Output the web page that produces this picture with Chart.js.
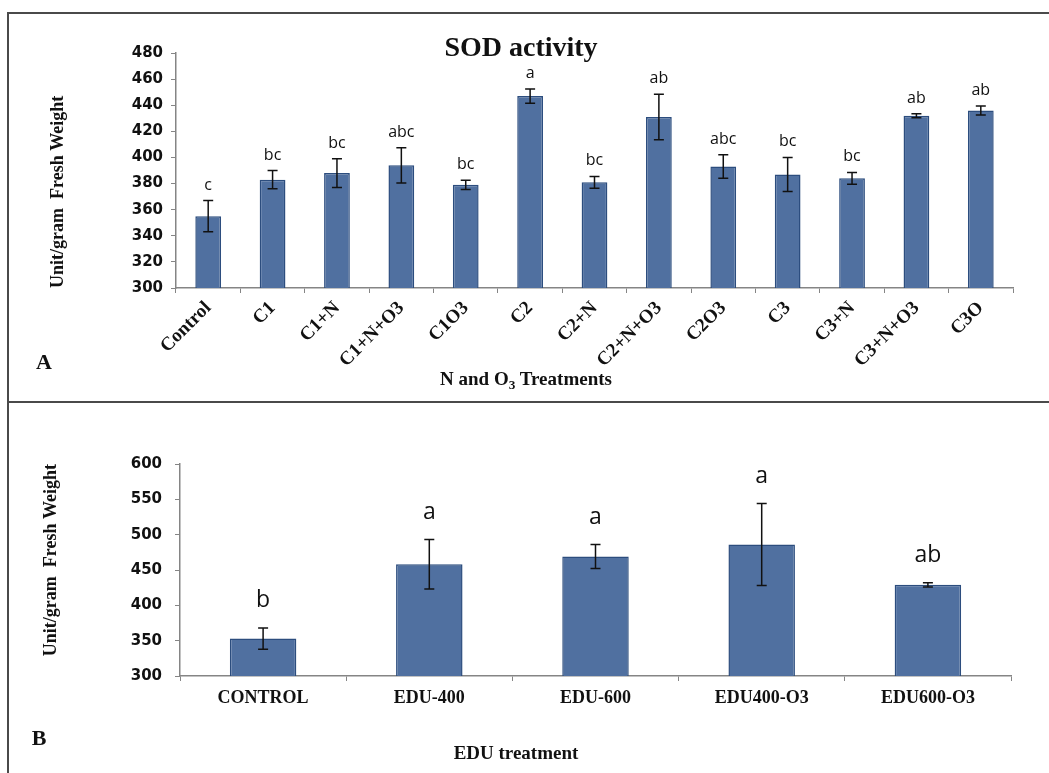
<!DOCTYPE html>
<html>
<head>
<meta charset="utf-8">
<script src="https://cdn.jsdelivr.net/npm/chart.js@4.4.0/dist/chart.umd.min.js"></script>
<style>
  body { margin: 0; background: #fff; width: 1049px; height: 773px; overflow: hidden; position: relative; }
  canvas { position: absolute; left: 0; }
  .line { position: absolute; background: #4a4a4a; }
  .lbl { position: absolute; transform: translate(-50%, -50%); font-family: 'Liberation Serif', serif;
         font-weight: bold; color: #111; white-space: nowrap; line-height: 1; }
  .lbl sub { font-size: 0.7em; vertical-align: -0.3em; }
</style>
</head>
<body>
<div class="line" style="left:7px;top:12px;width:1042px;height:2px"></div>
<div class="line" style="left:7px;top:12px;width:2px;height:761px"></div>
<div class="line" style="left:7px;top:401px;width:1042px;height:2px"></div>

<canvas id="chartA" width="1049" height="400" style="top:0"></canvas>
<canvas id="chartB" width="1049" height="371" style="top:402px"></canvas>

<div class="lbl" style="left:521px;top:47px;font-size:28px">SOD activity</div>
<div class="lbl" style="left:526px;top:380px;font-size:19px">N and O<sub>3</sub> Treatments</div>
<div class="lbl" style="left:44px;top:362px;font-size:22px">A</div>
<div class="lbl" style="left:39px;top:738px;font-size:22px">B</div>
<div class="lbl" style="left:516px;top:752px;font-size:19px">EDU treatment</div>

<script>
// Panel A: SOD activity, N and O3 treatments
const catsA = ['Control', 'C1', 'C1+N', 'C1+N+O3', 'C1O3', 'C2', 'C2+N', 'C2+N+O3', 'C2O3', 'C3', 'C3+N', 'C3+N+O3', 'C3O'];
const valsA = [355, 383, 388, 394, 379, 447, 381, 431, 393, 387, 384, 432, 436];
const errA = [12, 7, 11, 13.5, 3.5, 5.5, 4.5, 17.5, 9, 13, 4.5, 1.5, 3.5];
const lettersA = ['c', 'bc', 'bc', 'abc', 'bc', 'a', 'bc', 'ab', 'abc', 'bc', 'bc', 'ab', 'ab'];

// Panel B: EDU treatment
const catsB = ['CONTROL', 'EDU-400', 'EDU-600', 'EDU400-O3', 'EDU600-O3'];
const valsB = [353, 458, 469, 486, 429];
const errB = [15, 35, 17, 58, 3];
const lettersB = ['b', 'a', 'a', 'a', 'ab'];

const axisColor = '#858585';
const barFill = '#5070a0';
const barEdge = '#2c4d7e';

// error bars + significance letters drawn from the scales
const errorBarPlugin = {
    id: 'errorBars',
    afterDatasetsDraw(chart, args, opts) {
        const ctx = chart.ctx;
        const y = chart.scales.y;
        const meta = chart.getDatasetMeta(0);
        ctx.save();
        meta.data.forEach((bar, i) => {
            const v = opts.values[i];
            const e = opts.errors[i];
            const top = y.getPixelForValue(v + e);
            const bot = y.getPixelForValue(v - e);
            ctx.strokeStyle = '#111';
            ctx.lineWidth = 1.5;
            ctx.beginPath();
            ctx.moveTo(bar.x, top);
            ctx.lineTo(bar.x, bot);
            ctx.moveTo(bar.x - 5, top);
            ctx.lineTo(bar.x + 5, top);
            ctx.moveTo(bar.x - 5, bot);
            ctx.lineTo(bar.x + 5, bot);
            ctx.stroke();

            ctx.fillStyle = '#111';
            ctx.font = opts.letterFont;
            ctx.textAlign = 'center';
            ctx.textBaseline = 'alphabetic';
            ctx.fillText(opts.letters[i], bar.x, top - opts.gap);
        });
        ctx.restore();
    }
};

function makeChart(id, cats, vals, errs, letters, cfg) {
    return new Chart(document.getElementById(id), {
        type: 'bar',
        data: {
            labels: cats,
            datasets: [{
                data: vals,
                backgroundColor: barFill,
                borderColor: barEdge,
                borderWidth: 1.5,
                categoryPercentage: 1,
                barPercentage: 0.4,
            }],
        },
        options: {
            responsive: false,
            animation: false,
            layout: { padding: cfg.padding },
            plugins: {
                legend: { display: false },
                tooltip: { enabled: false },
                errorBars: { values: vals, errors: errs, letters: letters, letterFont: cfg.letterFont, gap: cfg.gap },
            },
            scales: {
                x: {
                    afterFit: (s) => { s.height = cfg.xHeight; },
                    border: { color: axisColor, width: 1.5 },
                    grid: { drawOnChartArea: false, color: axisColor, tickLength: 5, offset: true },
                    ticks: {
                        autoSkip: false,
                        minRotation: cfg.rotation,
                        maxRotation: cfg.rotation,
                        padding: cfg.xPad,
                        color: '#111',
                        font: { family: 'Liberation Serif', weight: 'bold', size: cfg.xFont },
                    },
                },
                y: {
                    min: cfg.min,
                    max: cfg.max,
                    afterFit: (s) => { s.width = cfg.yWidth; },
                    border: { color: axisColor, width: 1.5 },
                    grid: { drawOnChartArea: false, color: axisColor, tickLength: 5 },
                    ticks: {
                        stepSize: cfg.step,
                        padding: cfg.yPad,
                        color: '#111',
                        font: { family: 'DejaVu Sans', weight: 'bold', size: 15 },
                    },
                    title: {
                        display: true,
                        text: 'Unit/gram  Fresh Weight',
                        align: cfg.titleAlign,
                        color: '#111',
                        font: { family: 'Liberation Serif', weight: 'bold', size: 18 },
                    },
                },
            },
        },
        plugins: [errorBarPlugin],
    });
}

makeChart('chartA', catsA, valsA, errA, lettersA, {
    padding: { left: 44, right: 36, top: 53, bottom: 0 },
    yWidth: 132, xHeight: 112, min: 300, max: 480, step: 20,
    rotation: 45, xPad: 4, xFont: 19, yPad: 8, titleAlign: 'start',
    letterFont: '16px "Open Sans"', gap: 11,
});

makeChart('chartB', catsB, valsB, errB, lettersB, {
    padding: { left: 37, right: 38, top: 62, bottom: 0 },
    yWidth: 143, xHeight: 97, min: 300, max: 600, step: 50,
    rotation: 0, xPad: 7, xFont: 18, yPad: 13, titleAlign: 'end',
    letterFont: '23px "Open Sans"', gap: 21,
});
</script>
</body>
</html>
